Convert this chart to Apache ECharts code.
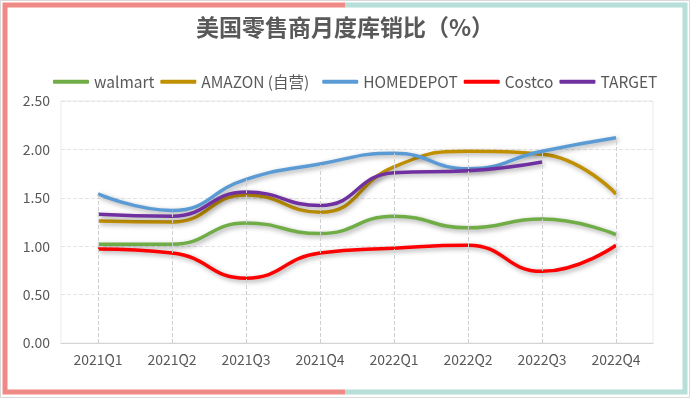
<!DOCTYPE html>
<html>
<head>
<meta charset="utf-8">
<title>美国零售商月度库销比</title>
<script src="https://cdn.jsdelivr.net/npm/echarts@6/dist/echarts.min.js"></script>
<style>
html, body { margin: 0; padding: 0; background: #fff; }
#container { width: 690px; height: 398px; }
</style>
</head>
<body>
<div id="container"></div>
<script>
// 横轴季度
var quarters = ['2021Q1', '2021Q2', '2021Q3', '2021Q4', '2022Q1', '2022Q2', '2022Q3', '2022Q4'];
// 各零售商库销比
var walmart = [1.02, 1.02, 1.24, 1.13, 1.31, 1.19, 1.28, 1.12];
var amazon = [1.26, 1.25, 1.53, 1.35, 1.82, 1.98, 1.95, 1.54];
var homedepot = [1.54, 1.37, 1.69, 1.85, 1.96, 1.80, 1.98, 2.12];
var costco = [0.97, 0.93, 0.67, 0.93, 0.98, 1.01, 0.74, 1.01];
var target = [1.33, 1.31, 1.56, 1.42, 1.76, 1.78, 1.87, null];
// 纵轴刻度
var yTicks = [0, 0.5, 1.0, 1.5, 2.0, 2.5];

var font = '"Noto Sans CJK SC", "Noto Sans", sans-serif';
var allSeries = [walmart, amazon, homedepot, costco, target];

(function() {
	var myChart = echarts.init(document.getElementById('container'));

	// 每个季度的垂直线：从横轴到当季最高点
	var dropLines = quarters.map(function(q, i) {
		var top = 0;
		allSeries.forEach(function(s) {
			if (s[i] != null && s[i] > top) top = s[i];
		});
		return [{ coord: [i, 0] }, { coord: [i, top] }];
	});

	function lineSeries(name, data, color) {
		return {
			name: name,
			type: 'line',
			data: data,
			smooth: 0.5,
			symbol: 'none',
			connectNulls: false,
			z: 3,
			lineStyle: {
				color: color,
				width: 3.5,
				shadowColor: 'rgba(0,0,0,0.35)',
				shadowBlur: 5,
				shadowOffsetX: 2,
				shadowOffsetY: 2
			},
			itemStyle: { color: color }
		};
	}

	var option = {
		animation: false,
		textStyle: { fontFamily: font },
		title: {
			text: '美国零售商月度库销比（%）',
			left: 'center',
			top: 16,
			padding: 0,
			textStyle: { fontSize: 23, fontWeight: 'bold', color: '#595959', fontFamily: font }
		},
		legend: {
			data: ['walmart', 'AMAZON (自营)', 'HOMEDEPOT', 'Costco', 'TARGET'],
			left: 53,
			top: 74,
			padding: 0,
			icon: 'roundRect',
			itemWidth: 36,
			itemHeight: 4,
			itemGap: 6,
			formatter: function(name) {
				// 原图 AMAZON 后留有空白
				return name.indexOf('AMAZON') === 0 ? name + '  ' : name;
			},
			textStyle: { fontSize: 15.5, color: '#595959', fontFamily: font }
		},
		grid: {
			left: 61,
			right: 37,
			top: 101,
			bottom: 55,
			show: true,
			borderColor: '#EBEBEB',
			borderWidth: 1
		},
		xAxis: {
			type: 'category',
			data: quarters,
			boundaryGap: true,
			axisLine: { lineStyle: { color: '#D4D4D4', width: 1 } },
			axisTick: { show: false },
			axisLabel: { fontSize: 14, color: '#595959', margin: 10 },
			splitLine: { show: false }
		},
		yAxis: {
			type: 'value',
			min: yTicks[0],
			max: yTicks[yTicks.length - 1],
			interval: yTicks[1] - yTicks[0],
			axisLine: { show: false },
			axisTick: { show: false },
			axisLabel: {
				fontSize: 14,
				color: '#595959',
				margin: 11,
				formatter: function(v) { return v.toFixed(2); }
			},
			splitLine: { lineStyle: { color: '#E3E3E3', type: 'dashed' } }
		},
		graphic: [
			{ type: 'rect', shape: { x: 0.5, y: 0.5, width: 689, height: 397 }, style: { fill: 'none', stroke: '#D9D9D9', lineWidth: 1 }, z: 0 },
			{ type: 'polyline', shape: { points: [[345, 5], [5, 5], [5, 392], [345, 392]] }, style: { fill: 'none', stroke: '#F08A86', lineWidth: 5 }, z: 1 },
			{ type: 'polyline', shape: { points: [[345, 5], [685, 5], [685, 392], [345, 392]] }, style: { fill: 'none', stroke: '#B6DFD9', lineWidth: 5 }, z: 1 }
		],
		series: [
			{
				name: 'drop',
				type: 'line',
				data: [],
				silent: true,
				z: 1,
				markLine: {
					silent: true,
					symbol: 'none',
					label: { show: false },
					lineStyle: { color: '#CFCFCF', type: 'dashed', width: 1 },
					data: dropLines
				}
			},
			lineSeries('walmart', walmart, '#70AD47'),
			lineSeries('AMAZON (自营)', amazon, '#C09000'),
			lineSeries('HOMEDEPOT', homedepot, '#5B9BD5'),
			lineSeries('Costco', costco, '#FF0000'),
			lineSeries('TARGET', target, '#7030A0')
		]
	};
	myChart.setOption(option);
})();
</script>
</body>
</html>
